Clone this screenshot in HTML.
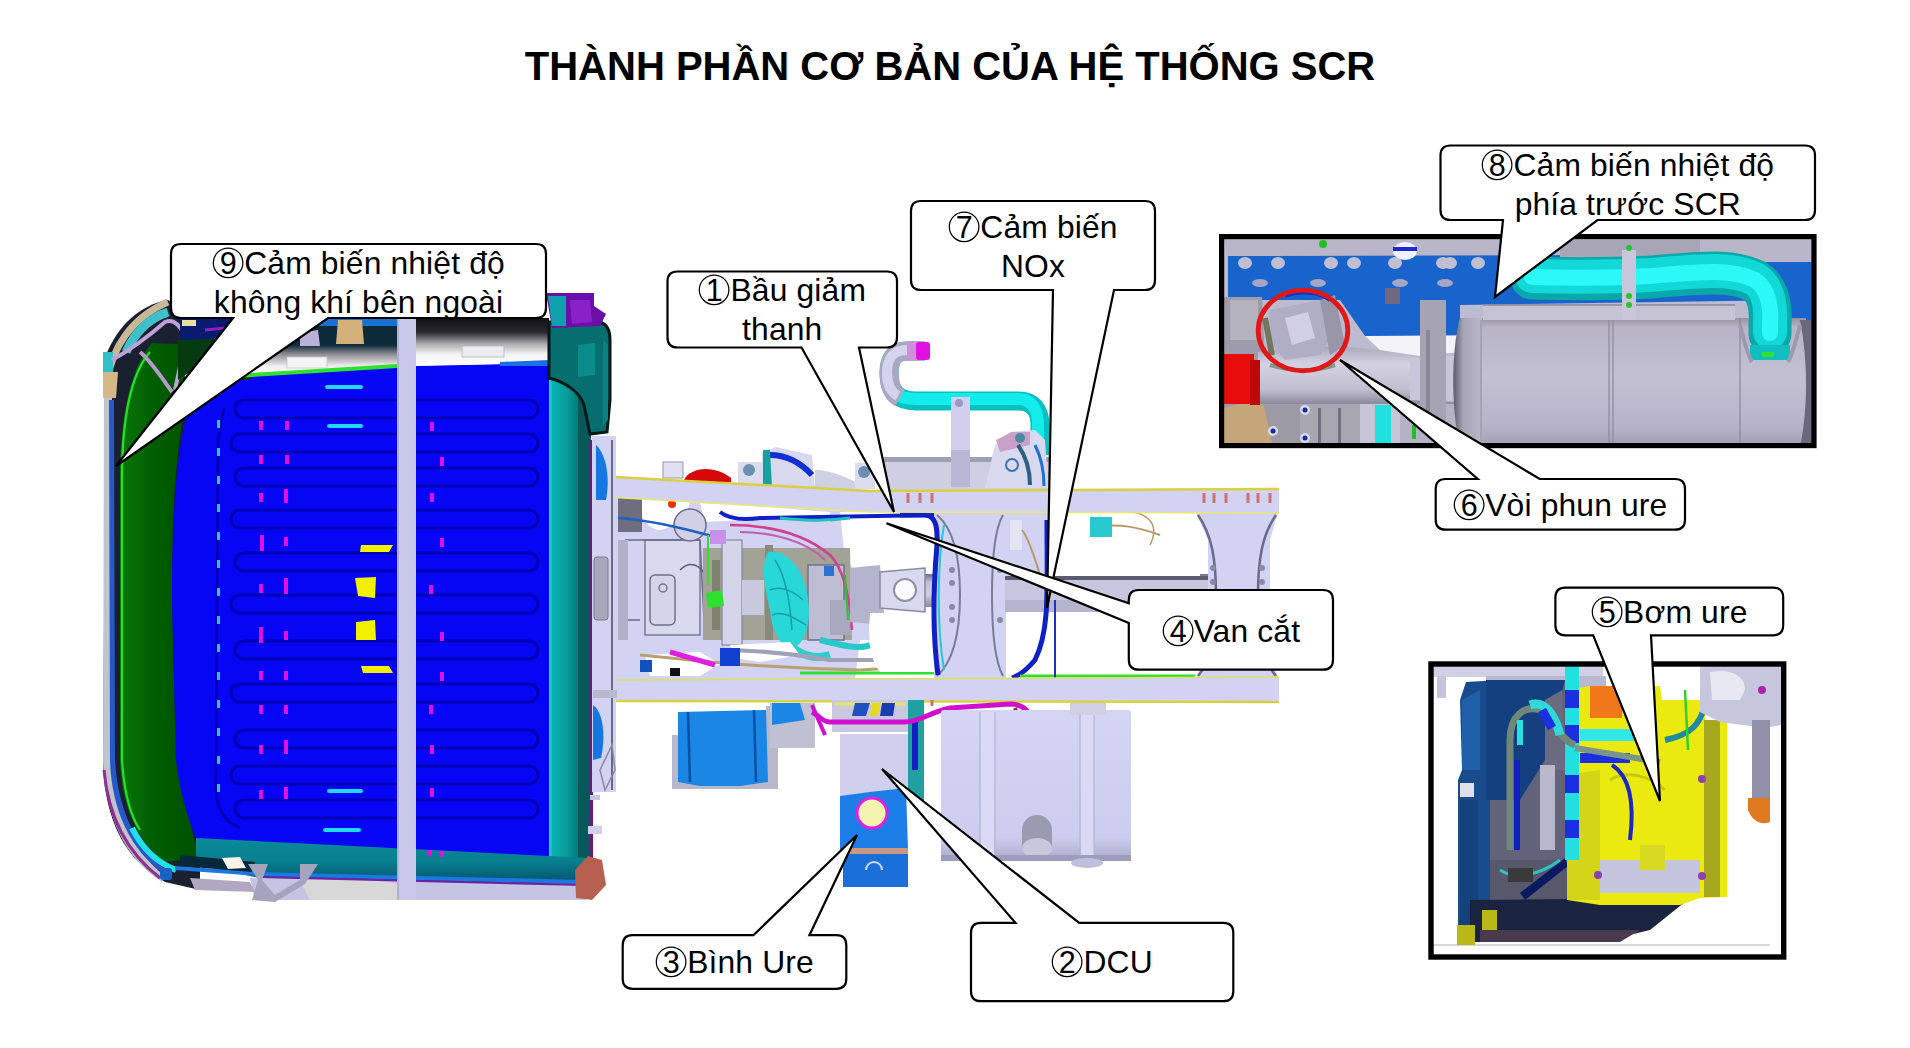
<!DOCTYPE html>
<html><head><meta charset="utf-8"><style>
html,body{margin:0;padding:0;background:#fff;}
body{width:1910px;height:1048px;position:relative;overflow:hidden;font-family:"Liberation Sans",sans-serif;}
#title{position:absolute;left:0;width:1900px;top:43px;text-align:center;font-weight:bold;font-size:40px;line-height:46px;color:#000;white-space:nowrap}
svg.main{position:absolute;left:0;top:0}
.ln{position:absolute;text-align:center;font-size:31.8px;line-height:38px;color:#000;white-space:nowrap;letter-spacing:0.15px}
.cd{vertical-align:-6px;margin-left:-2px}
</style></head><body>
<div id="title">THÀNH PHẦN CƠ BẢN CỦA HỆ THỐNG SCR</div>
<svg class="main" width="1910" height="1048" viewBox="0 0 1910 1048">
<defs><linearGradient id="cabTopL" x1="0" y1="0" x2="0" y2="1"><stop offset="0" stop-color="#0c2a3a"/><stop offset="0.45" stop-color="#0c2a3a"/><stop offset="0.6" stop-color="#8a8a90"/><stop offset="0.8" stop-color="#f0f0f2"/><stop offset="1" stop-color="#ffffff"/></linearGradient><linearGradient id="cabTopR" x1="0" y1="0" x2="0" y2="1"><stop offset="0" stop-color="#101014"/><stop offset="0.3" stop-color="#2a2a30"/><stop offset="0.55" stop-color="#b0b0b4"/><stop offset="0.75" stop-color="#f2f2f4"/><stop offset="1" stop-color="#ffffff"/></linearGradient><linearGradient id="tealBot" x1="0" y1="0" x2="0" y2="1"><stop offset="0" stop-color="#0a8a9a"/><stop offset="0.5" stop-color="#088090"/><stop offset="1" stop-color="#05506a"/></linearGradient><linearGradient id="tealR" x1="0" y1="0" x2="1" y2="0"><stop offset="0" stop-color="#20e0e0"/><stop offset="0.12" stop-color="#0cb0b0"/><stop offset="0.6" stop-color="#089c9c"/><stop offset="1" stop-color="#067a7a"/></linearGradient><linearGradient id="grn" x1="0" y1="0" x2="1" y2="0"><stop offset="0" stop-color="#0a780a"/><stop offset="0.4" stop-color="#005e00"/><stop offset="1" stop-color="#005000"/></linearGradient><filter id="soft" x="-5%" y="-50%" width="110%" height="200%"><feGaussianBlur stdDeviation="0.7"/></filter></defs>
<path d="M168,300 C140,305 118,325 106,355 L103,760 C104,820 125,860 165,882 L200,890 L200,320 Z" fill="#1a2030"/>
<path d="M104,380 L112,380 L113,760 C116,812 132,850 165,876 L162,882 C125,858 106,818 103,762 Z" fill="#c0c4cc"/>
<path d="M109,400 L114,400 L115,760 C118,808 134,846 166,870 L164,874 C130,850 112,810 110,762 Z" fill="#2858c8"/>
<path d="M104,770 C108,815 126,852 160,878" fill="none" stroke="#903090" stroke-width="3"/>
<path d="M152,343 C130,368 120,420 120,480 L120,760 C122,805 136,840 165,862 L198,858 L192,830 L176,760 L172,600 C172,480 178,420 196,370 L200,345 Z" fill="url(#grn)"/>
<path d="M150,352 C130,375 122,420 122,480 L122,760 C124,790 130,815 140,830" fill="none" stroke="#28e028" stroke-width="2.2"/>
<path d="M132,828 C142,848 155,862 176,870" fill="none" stroke="#20e0e8" stroke-width="6"/>
<rect x="160" y="868" width="12" height="12" rx="3" fill="#1a60c0"/>
<path d="M108,378 C112,350 130,318 168,302" fill="none" stroke="#c8b898" stroke-width="7"/>
<path d="M126,352 C135,332 150,318 168,312" fill="none" stroke="#40c0c8" stroke-width="9"/>
<path d="M103,352 L113,352 L113,372 L103,372 Z" fill="#30c0c8"/>
<path d="M103,372 L118,372 L116,398 L103,398 Z" fill="#d4b888"/>
<path d="M112,360 C130,350 150,335 165,322 C175,318 182,328 185,338 C182,360 178,375 175,390" fill="none" stroke="#c0a0d8" stroke-width="4"/>
<path d="M140,352 C150,360 160,375 172,392" fill="none" stroke="#b898c8" stroke-width="4"/>
<path d="M180,340 L195,370" stroke="#2090e0" stroke-width="5"/>
<path d="M200,378 L300,372 L397,366 L549,363 L549,858 L198,842 C190,825 180,795 176,760 L172,600 C172,500 178,430 196,385 Z" fill="#0606f4"/>
<path d="M224,408 L218,440 L216,790 C217,810 225,822 240,828" fill="none" stroke="#0000b0" stroke-width="2.5"/>
<rect x="235" y="400" width="303" height="18" rx="9" fill="none" stroke="#0000b4" stroke-width="3" filter="url(#soft)"/>
<rect x="231" y="434" width="307" height="18" rx="9" fill="none" stroke="#0000b4" stroke-width="3" filter="url(#soft)"/>
<rect x="235" y="468" width="303" height="18" rx="9" fill="none" stroke="#0000b4" stroke-width="3" filter="url(#soft)"/>
<rect x="231" y="510" width="307" height="18" rx="9" fill="none" stroke="#0000b4" stroke-width="3" filter="url(#soft)"/>
<rect x="235" y="553" width="303" height="18" rx="9" fill="none" stroke="#0000b4" stroke-width="3" filter="url(#soft)"/>
<rect x="231" y="595" width="307" height="18" rx="9" fill="none" stroke="#0000b4" stroke-width="3" filter="url(#soft)"/>
<rect x="235" y="641" width="303" height="18" rx="9" fill="none" stroke="#0000b4" stroke-width="3" filter="url(#soft)"/>
<rect x="231" y="684" width="307" height="18" rx="9" fill="none" stroke="#0000b4" stroke-width="3" filter="url(#soft)"/>
<rect x="235" y="730" width="303" height="18" rx="9" fill="none" stroke="#0000b4" stroke-width="3" filter="url(#soft)"/>
<rect x="231" y="766" width="307" height="18" rx="9" fill="none" stroke="#0000b4" stroke-width="3" filter="url(#soft)"/>
<rect x="235" y="800" width="303" height="18" rx="9" fill="none" stroke="#0000b4" stroke-width="3" filter="url(#soft)"/>
<path d="M180,318 L397,318 L397,366 L300,372 L200,378 L185,378 Z" fill="url(#cabTopL)"/>
<path d="M180,318 L300,318 L300,340 L180,345 Z" fill="#0a1a70"/>
<path d="M178,340 L250,338 L250,380 L200,380 L190,372 L178,380 Z" fill="#063a10"/>
<path d="M205,330 L245,326" stroke="#9020c0" stroke-width="3"/>
<rect x="182" y="320" width="14" height="6" fill="#e8e0a0"/>
<path d="M315,318 L397,318 L397,326 L315,326 Z" fill="#1a70d0"/>
<path d="M338,320 L362,320 L364,344 L336,344 Z" fill="#d4b07a"/>
<path d="M300,333 L318,330 L320,346 L300,346 Z" fill="#b8b0d8"/>
<rect x="287" y="357" width="40" height="11" fill="#f4f4f6" stroke="#c8c8cc" stroke-width="0.8"/>
<path d="M200,376 L300,370 L397,364 L397,368 L300,374 L200,380 Z" fill="#30e030"/>
<path d="M416,318 L549,318 L549,363 L416,366 Z" fill="url(#cabTopR)"/>
<rect x="462" y="346" width="42" height="11" fill="#ececf0" stroke="#b4b4b8" stroke-width="0.8"/>
<path d="M500,362 L549,360 L549,366 L500,366 Z" fill="#1a70e0"/>
<path d="M549,335 L578,335 L578,872 L549,868 Z" fill="url(#tealR)"/>
<path d="M578,335 L591,335 L591,870 L578,872 Z" fill="#06585a"/>
<path d="M549,322 L600,322 Q610,325 610,340 L610,400 L607,432 L590,434 L584,405 C580,392 565,382 549,378 Z" fill="#066e6e" stroke="#031818" stroke-width="3"/>
<path d="M578,345 L595,343 L595,375 L578,377 Z" fill="#0a8c8c"/>
<path d="M603,340 L608,345 L608,420 L603,425 Z" fill="#0a8080"/>
<rect x="590" y="440" width="3" height="420" fill="#6a1a7a"/>
<path d="M546,293 L594,293 L594,306 L606,314 L600,326 L552,328 Z" fill="#6a10a8"/>
<path d="M548,296 L566,296 L566,326 L552,326 Z" fill="#10a0b0"/>
<path d="M570,300 L590,300 L592,322 L572,324 Z" fill="#8a20c8"/>
<path d="M196,838 L549,856 L590,858 L592,872 L580,884 L260,878 L220,870 L196,858 Z" fill="url(#tealBot)"/>
<path d="M250,878 L580,884 L590,890 L585,900 L255,900 Z" fill="#c4c4e4"/>
<path d="M300,880 C330,878 380,880 400,884 L398,900 L310,900 Z" fill="#d8d8d8"/>
<path d="M175,866 L260,872 L585,880 L584,884 L258,876 L175,870 Z" fill="#1a78e0"/>
<path d="M258,876 L585,884 L584,886 L258,878 Z" fill="#7020a0"/>
<path d="M180,855 L255,862 L252,872 L180,866 Z" fill="#06283a"/>
<path d="M222,858 L240,857 L246,868 L228,869 Z" fill="#f8f4e8"/>
<path d="M190,878 L250,882 L255,892 L195,890 Z" fill="#b0a8c0"/>
<path d="M248,864 L268,864 L262,880 L275,895 L300,880 L300,864 L318,864 L305,884 L275,902 L252,900 L258,880 Z" fill="#a4a4bc"/>
<path d="M588,856 L602,860 L606,885 L592,900 L576,898 L575,870 Z" fill="#b86050"/>
<rect x="259" y="421" width="4" height="9" fill="#e010e0"/>
<rect x="285" y="421" width="4" height="9" fill="#e010e0"/>
<rect x="430" y="422" width="4" height="9" fill="#e010e0"/>
<rect x="259" y="455" width="4" height="9" fill="#e010e0"/>
<rect x="285" y="455" width="4" height="9" fill="#e010e0"/>
<rect x="440" y="457" width="4" height="9" fill="#e010e0"/>
<rect x="259" y="493" width="4" height="9" fill="#e010e0"/>
<rect x="284" y="489" width="4" height="14" fill="#e010e0"/>
<rect x="430" y="493" width="4" height="9" fill="#e010e0"/>
<rect x="260" y="535" width="4" height="16" fill="#e010e0"/>
<rect x="284" y="537" width="4" height="9" fill="#e010e0"/>
<rect x="440" y="538" width="4" height="9" fill="#e010e0"/>
<rect x="259" y="584" width="4" height="9" fill="#e010e0"/>
<rect x="284" y="578" width="4" height="16" fill="#e010e0"/>
<rect x="429" y="585" width="4" height="9" fill="#e010e0"/>
<rect x="259" y="627" width="4" height="16" fill="#e010e0"/>
<rect x="284" y="631" width="4" height="9" fill="#e010e0"/>
<rect x="440" y="632" width="4" height="9" fill="#e010e0"/>
<rect x="259" y="671" width="4" height="9" fill="#e010e0"/>
<rect x="284" y="671" width="4" height="9" fill="#e010e0"/>
<rect x="440" y="672" width="4" height="9" fill="#e010e0"/>
<rect x="259" y="705" width="4" height="9" fill="#e010e0"/>
<rect x="284" y="705" width="4" height="9" fill="#e010e0"/>
<rect x="429" y="705" width="4" height="9" fill="#e010e0"/>
<rect x="259" y="745" width="4" height="9" fill="#e010e0"/>
<rect x="284" y="740" width="4" height="14" fill="#e010e0"/>
<rect x="430" y="745" width="4" height="9" fill="#e010e0"/>
<rect x="259" y="790" width="4" height="9" fill="#e010e0"/>
<rect x="284" y="787" width="4" height="12" fill="#e010e0"/>
<rect x="430" y="788" width="4" height="9" fill="#e010e0"/>
<rect x="428" y="850" width="4" height="6" fill="#e010e0"/>
<rect x="440" y="851" width="4" height="6" fill="#e010e0"/>
<path d="M361,545 L393,545 L389,552 L360,552 Z" fill="#f0f000"/>
<path d="M355,578 L376,577 L375,598 L358,596 Z" fill="#f0f000"/>
<path d="M356,622 L375,620 L376,640 L356,640 Z" fill="#f0f000"/>
<path d="M361,666 L389,666 L393,673 L363,673 Z" fill="#f0f000"/>
<rect x="325" y="385" width="38" height="4" rx="2" fill="#20d8f0"/>
<rect x="327" y="424" width="36" height="4" rx="2" fill="#20d8f0"/>
<rect x="327" y="789" width="36" height="4" rx="2" fill="#20d8f0"/>
<rect x="323" y="828" width="38" height="4" rx="2" fill="#20d8f0"/>
<rect x="217" y="420" width="3" height="8" fill="#30c0f0"/>
<rect x="217" y="448" width="3" height="8" fill="#30c0f0"/>
<rect x="217" y="476" width="3" height="8" fill="#30c0f0"/>
<rect x="217" y="504" width="3" height="8" fill="#30c0f0"/>
<rect x="217" y="532" width="3" height="8" fill="#30c0f0"/>
<rect x="217" y="560" width="3" height="8" fill="#30c0f0"/>
<rect x="217" y="588" width="3" height="8" fill="#30c0f0"/>
<rect x="217" y="616" width="3" height="8" fill="#30c0f0"/>
<rect x="217" y="644" width="3" height="8" fill="#30c0f0"/>
<rect x="217" y="672" width="3" height="8" fill="#30c0f0"/>
<rect x="217" y="700" width="3" height="8" fill="#30c0f0"/>
<rect x="217" y="728" width="3" height="8" fill="#30c0f0"/>
<rect x="217" y="756" width="3" height="8" fill="#30c0f0"/>
<rect x="217" y="784" width="3" height="8" fill="#30c0f0"/>
<rect x="397" y="318" width="19" height="582" fill="#c8c8ea"/>
<rect x="397" y="318" width="2" height="582" fill="#b0b0d4"/>
<defs><linearGradient id="pipeGrayV" x1="0" y1="0" x2="0" y2="1"><stop offset="0" stop-color="#8a8aa0"/><stop offset="0.3" stop-color="#d8d8ee"/><stop offset="0.7" stop-color="#c8c8e0"/><stop offset="1" stop-color="#7a7a90"/></linearGradient><linearGradient id="shaftG" x1="0" y1="0" x2="0" y2="1"><stop offset="0" stop-color="#70708a"/><stop offset="0.25" stop-color="#c0c0d8"/><stop offset="0.6" stop-color="#d0d0e6"/><stop offset="1" stop-color="#8a8aa4"/></linearGradient><linearGradient id="cyanP" x1="0" y1="0" x2="0" y2="1"><stop offset="0" stop-color="#10c8c8"/><stop offset="0.4" stop-color="#10f0f0"/><stop offset="1" stop-color="#08b0b0"/></linearGradient><linearGradient id="tankG" x1="0" y1="0" x2="0" y2="1"><stop offset="0" stop-color="#d4d4f4"/><stop offset="0.85" stop-color="#ccccee"/><stop offset="1" stop-color="#a8a8c8"/></linearGradient></defs>
<path d="M925,351 L907,351 Q889,351 889,373 Q889,401 916,401 L1018,401 Q1040,401 1040,426 L1040,455" fill="none" stroke="#08c0c0" stroke-width="19"/>
<path d="M925,349 L907,349 Q887,349 887,373 Q887,399 916,399 L1018,399 Q1038,399 1038,426 L1038,455" fill="none" stroke="#14ecec" stroke-width="12"/>
<path d="M925,351 L907,351 Q889,351 889,373 Q889,392 900,398" fill="none" stroke="#a8a8c4" stroke-width="19"/>
<path d="M925,350 L907,350 Q887,350 887,373 Q887,390 898,396" fill="none" stroke="#d4d4ec" stroke-width="10"/>
<path d="M920,351 L907,351" fill="none" stroke="#d090d8" stroke-width="19"/>
<rect x="916" y="342" width="14" height="18" rx="3" fill="#e010e0"/>
<rect x="884" y="457" width="166" height="34" fill="#cfcfe4"/>
<rect x="884" y="457" width="166" height="5" fill="#a0a0b4"/>
<rect x="951" y="397" width="19" height="90" fill="#d0d0ee"/>
<rect x="951" y="450" width="19" height="37" fill="#b8b8d6"/>
<circle cx="959" cy="403" r="4" fill="#a098c0"/>
<path d="M995,445 L1010,432 L1035,430 L1045,440 L1048,488 L985,488 Z" fill="#d8d8ee"/>
<path d="M996,440 L1012,432 L1030,432 L1030,445 L1000,452 Z" fill="#c8a0c8"/>
<circle cx="1020" cy="438" r="5" fill="#4a8aa0"/>
<path d="M1018,445 C1025,455 1030,470 1030,485" stroke="#306080" stroke-width="4" fill="none"/>
<path d="M1035,445 C1040,455 1044,470 1044,486" stroke="#2070d0" stroke-width="3" fill="none"/>
<circle cx="1012" cy="465" r="6" fill="none" stroke="#4070b0" stroke-width="2"/>
<rect x="663" y="462" width="20" height="16" fill="#e0e0f0" stroke="#909ab0" stroke-width="1"/>
<path d="M684,480 C690,468 712,464 731,478 L731,482 L684,482 Z" fill="#d40808"/>
<rect x="738" y="462" width="26" height="26" fill="#dcdcf0"/>
<circle cx="749" cy="470" r="6" fill="#6a90b0"/>
<path d="M762,452 L776,447 L812,455 L815,488 L762,488 Z" fill="#d8d8ee"/>
<path d="M770,455 C785,455 800,462 812,475" stroke="#1030d0" stroke-width="6" fill="none"/>
<path d="M763,450 L770,450 L772,488 L763,488 Z" fill="#18a0a0"/>
<path d="M815,470 C830,470 850,478 860,485 L860,490 L815,490 Z" fill="#d0d0e4"/>
<rect x="855" y="463" width="20" height="26" fill="#dcdcf0"/>
<circle cx="864" cy="472" r="6" fill="#6a90b0"/>
<path d="M616,497 L700,502 L860,512 L865,560 L870,640 L860,680 L616,680 Z" fill="#d2d2f2"/>
<path d="M700,503 C740,505 780,508 830,512 L830,522 C790,518 740,520 705,522 Z" fill="#ffffff"/>
<path d="M640,499 L690,501 C688,515 675,528 660,530 C650,530 642,520 640,510 Z" fill="#ffffff"/>
<path d="M840,512 L1000,515 L1000,575 L860,575 L845,560 Z" fill="#ffffff"/>
<rect x="645" y="540" width="55" height="95" fill="#d8d8ee" stroke="#7a7a92" stroke-width="1.5"/>
<rect x="650" y="575" width="25" height="50" rx="5" fill="#d4d4ea" stroke="#70708a" stroke-width="1.5"/>
<circle cx="663" cy="588" r="4" fill="none" stroke="#70708a" stroke-width="1.5"/>
<path d="M625,540 L700,540 M625,620 L640,620 M700,540 L705,640" stroke="#6a6a82" stroke-width="1.5" fill="none"/>
<circle cx="690" cy="525" r="16" fill="#d0d0e6" stroke="#6a6a86" stroke-width="1.5"/>
<path d="M680,570 C690,560 700,565 705,575" stroke="#5a5a70" stroke-width="1.5" fill="none"/>
<rect x="618" y="497" width="24" height="35" fill="#6e6e80"/>
<rect x="618" y="540" width="10" height="100" fill="#b0b0c6"/>
<circle cx="672" cy="504" r="4" fill="#e83010"/>
<path d="M618,518 C650,520 680,528 712,536" stroke="#2060c0" stroke-width="2.5" fill="none"/>
<path d="M703,548 L850,548 L852,640 L703,640 Z" fill="#a2a296"/>
<rect x="722" y="540" width="20" height="105" fill="#d4d4ea" stroke="#7a7a92" stroke-width="1"/>
<rect x="742" y="580" width="22" height="35" fill="#c8c8de"/>
<rect x="712" y="560" width="8" height="70" fill="#80806e"/>
<rect x="765" y="545" width="8" height="95" fill="#8a8a7a"/>
<rect x="808" y="565" width="36" height="75" fill="#bdbdd4" stroke="#70708a" stroke-width="1.5"/>
<rect x="830" y="600" width="22" height="35" fill="#a8a8be"/>
<path d="M706,593 L722,590 L724,606 L708,608 Z" fill="#30e030"/>
<rect x="707" y="535" width="2" height="50" fill="#30e030"/>
<path d="M768,552 C785,550 800,565 805,585 C812,605 810,640 795,647 C780,650 772,630 770,610 C765,590 760,565 768,552 Z" fill="#28d8d8"/>
<path d="M775,560 C785,575 790,600 792,630 M770,590 C780,585 795,592 803,600 M772,615 C782,610 795,618 806,625" stroke="#14a0a8" stroke-width="1.5" fill="none"/>
<path d="M790,645 C800,655 815,660 830,655" stroke="#28d0d0" stroke-width="8" fill="none"/>
<path d="M730,525 C760,525 800,530 830,555 C845,570 850,600 852,630" stroke="#d04090" stroke-width="2.5" fill="none"/>
<path d="M740,532 C770,532 805,540 825,560" stroke="#c060b0" stroke-width="2" fill="none"/>
<rect x="710" y="530" width="16" height="14" fill="#c890e8"/>
<rect x="824" y="566" width="10" height="10" fill="#3070d0"/>
<path d="M645,655 L700,652 L720,664 L700,676 L650,676 Z" fill="#ffffff"/>
<path d="M730,645 L790,642 L800,655 L760,662 L735,658 Z" fill="#ffffff"/>
<path d="M860,640 L870,640 L875,680 L855,680 Z" fill="#ffffff"/>
<path d="M720,512 C730,520 745,520 760,518 L935,515 C945,516 948,525 948,540 L948,640 C948,660 945,670 940,678" stroke="#1020c8" stroke-width="4" fill="none"/>
<path d="M780,518 C800,520 820,522 850,518" stroke="#20c0c0" stroke-width="3" fill="none"/>
<path d="M640,655 C690,660 760,668 860,670 L945,665" stroke="#b8a070" stroke-width="3" fill="none"/>
<path d="M670,652 L715,665" stroke="#e020e0" stroke-width="5" fill="none"/>
<path d="M720,650 C760,650 800,655 830,660 L920,660" stroke="#a0a0b8" stroke-width="4" fill="none"/>
<path d="M800,673 L950,673" stroke="#30e030" stroke-width="3" fill="none"/>
<path d="M940,672 L1000,672" stroke="#1020c8" stroke-width="4" fill="none"/>
<rect x="720" y="648" width="20" height="18" fill="#1040d0"/>
<rect x="640" y="660" width="12" height="12" fill="#1050c0"/>
<rect x="670" y="668" width="10" height="8" fill="#101018"/>
<path d="M820,640 C840,645 860,650 870,645" stroke="#28c8c8" stroke-width="6" fill="none"/>
<rect x="850" y="574" width="360" height="33" fill="url(#shaftG)"/>
<path d="M850,568 L880,565 L885,625 L850,622 Z" fill="#b4b4cc"/>
<path d="M880,572 L925,568 L925,612 L880,608 Z" fill="#d8d8ee" stroke="#8888a0" stroke-width="1.5"/>
<circle cx="905" cy="590" r="11" fill="#fafaff" stroke="#9090a8" stroke-width="2"/>
<path d="M845,575 L848,620" stroke="#30c030" stroke-width="2"/>
<path d="M870,613 L945,613 L945,672 L880,672 C870,660 868,640 870,613 Z" fill="#ffffff"/>
<rect x="1048" y="513" width="152" height="66" fill="#ffffff"/>
<path d="M1008,611 L1196,611 L1196,677 L1040,677 C1020,670 1010,650 1008,611 Z" fill="#ffffff"/>
<rect x="934" y="513" width="72" height="165" fill="#d2d2f2"/>
<path d="M937,515 C955,530 960,560 960,595 C960,630 955,660 937,676 M1003,515 C994,530 992,560 992,595 C992,630 994,660 1003,676" stroke="#7a7a9a" stroke-width="2" fill="none"/>
<rect x="1005" y="513" width="45" height="66" fill="#d2d2f2"/>
<rect x="1010" y="520" width="12" height="30" fill="#e4e4f4"/>
<path d="M1022,530 C1030,540 1035,560 1040,575" stroke="#b89868" stroke-width="2" fill="none"/>
<circle cx="952" cy="570" r="3" fill="#8888a8"/>
<circle cx="952" cy="583" r="3" fill="#8888a8"/>
<circle cx="952" cy="607" r="3" fill="#8888a8"/>
<circle cx="952" cy="620" r="3" fill="#8888a8"/>
<circle cx="1000" cy="570" r="3" fill="#8888a8"/>
<circle cx="1000" cy="620" r="3" fill="#8888a8"/>
<rect x="1005" y="578" width="205" height="34" fill="#c6c6de"/>
<rect x="1005" y="600" width="205" height="12" fill="#b4b4cc"/>
<rect x="1005" y="576" width="205" height="4" fill="#5a5a70"/>
<path d="M1196,513 L1278,513 L1270,540 L1270,650 L1278,678 L1196,678 L1208,650 L1208,540 Z" fill="#d2d2f2"/>
<path d="M1198,515 C1212,535 1216,560 1216,595 C1216,630 1212,660 1198,676 M1276,515 C1262,535 1258,560 1258,595 C1258,630 1262,660 1276,676" stroke="#6a6a90" stroke-width="2.5" fill="none"/>
<circle cx="1213" cy="568" r="3" fill="#8888a8"/>
<circle cx="1213" cy="582" r="3" fill="#8888a8"/>
<circle cx="1262" cy="568" r="3" fill="#8888a8"/>
<circle cx="1262" cy="582" r="3" fill="#8888a8"/>
<path d="M900,515 L925,515 C935,516 938,525 937,545 C933,590 932,630 938,675" stroke="#1020c8" stroke-width="5" fill="none"/>
<path d="M944,525 C938,560 936,620 944,670" stroke="#28c8d8" stroke-width="2" fill="none"/>
<path d="M1047,520 C1047,590 1050,630 1035,660 C1025,672 1018,676 1012,678" stroke="#1020c8" stroke-width="5" fill="none"/>
<path d="M1020,676 L1195,676" stroke="#30e030" stroke-width="3"/>
<path d="M1055,600 L1055,678" stroke="#2030c0" stroke-width="2" fill="none"/>
<path d="M1090,528 C1120,522 1140,528 1160,535" stroke="#b89868" stroke-width="2" fill="none"/>
<rect x="1090" y="517" width="22" height="20" fill="#28c8d0"/>
<path d="M1120,510 C1150,512 1160,525 1150,545" stroke="#b89868" stroke-width="1.5" fill="none"/>
<path d="M615,477 L870,491 L1279,489 L1279,513 L870,512 L615,497.5 Z" fill="#d2d2f2"/>
<path d="M615,477 L870,491 L1279,489" stroke="#d8d040" stroke-width="2.5" fill="none"/>
<path d="M615,497.5 L870,512 L1279,513" stroke="#e8e870" stroke-width="1.5" fill="none"/>
<path d="M615,680 L1279,677 L1279,701 L615,700.5 Z" fill="#d2d2f2"/>
<path d="M615,680 L1279,677" stroke="#e0e060" stroke-width="1.5" fill="none"/>
<path d="M615,701 L1279,702" stroke="#d8d040" stroke-width="2.5" fill="none"/>
<path d="M908,493 l0,10" stroke="#d07070" stroke-width="3"/>
<path d="M920,493 l0,10" stroke="#d07070" stroke-width="3"/>
<path d="M932,493 l0,10" stroke="#d07070" stroke-width="3"/>
<path d="M1204,493 l0,10" stroke="#d07070" stroke-width="3"/>
<path d="M1214,493 l0,10" stroke="#d07070" stroke-width="3"/>
<path d="M1226,493 l0,10" stroke="#d07070" stroke-width="3"/>
<path d="M1248,493 l0,10" stroke="#d07070" stroke-width="3"/>
<path d="M1258,493 l0,10" stroke="#d07070" stroke-width="3"/>
<path d="M1270,493 l0,10" stroke="#d07070" stroke-width="3"/>
<path d="M908,700 l0,6" stroke="#d07070" stroke-width="3"/>
<path d="M920,700 l0,6" stroke="#d07070" stroke-width="3"/>
<path d="M932,700 l0,6" stroke="#d07070" stroke-width="3"/>
<rect x="592" y="436" width="24" height="356" fill="#d2d2f2"/>
<rect x="611" y="440" width="2" height="350" fill="#6a6a80"/>
<path d="M600,770 L612,745 L615,770 L605,790 Z" fill="none" stroke="#8a8aa0" stroke-width="1.5"/>
<rect x="590" y="795" width="10" height="5" fill="#c8c8e0"/><rect x="588" y="826" width="14" height="8" fill="#d0d0ea"/>
<path d="M596,445 C607,455 610,480 606,500 L596,500 Z" fill="#1478e0"/>
<rect x="594" y="557" width="14" height="63" rx="3" fill="#a8a8bc" stroke="#7a7a90" stroke-width="1"/>
<path d="M593,705 C603,712 606,735 601,758 L593,760 Z" fill="#1478e0"/>
<rect x="593" y="690" width="24" height="8" fill="#b8b8d0"/>
<path d="M672,735 L680,735 L680,782 L766,782 L766,706 L778,706 L778,789 L672,789 Z" fill="#b8b8cc"/>
<path d="M678,712 L766,710 L768,782 L740,786 L700,786 L678,782 Z" fill="#1a86e6"/>
<path d="M688,712 L690,782 M754,710 L756,782" stroke="#0a50a0" stroke-width="2.5"/>
<rect x="770" y="703" width="45" height="45" fill="#c0c0d4"/>
<path d="M772,703 L800,703 L805,720 L772,725 Z" fill="#1a86e6"/>
<rect x="832" y="700" width="80" height="32" fill="#c8c8e0"/>
<path d="M835,704 L905,704" stroke="#e8e860" stroke-width="3"/>
<path d="M855,703 L870,703 L866,716 L852,716 Z" fill="#2050c0"/><path d="M872,703 L880,703 L878,716 L870,716 Z" fill="#e8d820"/><path d="M882,703 L895,703 L893,716 L880,716 Z" fill="#1a3cb0"/>
<rect x="840" y="734" width="68" height="62" fill="#d0d0ee"/>
<path d="M840,796 L870,792 L906,788 L908,850 L840,850 Z" fill="#1c7ee6"/>
<rect x="843" y="850" width="65" height="37" fill="#1a6fd8"/>
<rect x="843" y="848" width="65" height="6" fill="#c89880"/>
<circle cx="872" cy="813" r="15" fill="#f4f4b0" stroke="#e020e0" stroke-width="3"/>
<path d="M866,870 A8,8 0 0 1 882,870" stroke="#d0d8f0" stroke-width="2" fill="none"/>
<rect x="908" y="700" width="16" height="100" fill="#20a0a0"/>
<rect x="912" y="720" width="6" height="50" fill="#1020c0"/>
<path d="M812,712 C820,716 822,722 830,722 L905,722 C920,722 930,712 950,708 L1010,704 C1030,704 1034,720 1034,740 L1034,788" stroke="#d010d0" stroke-width="5" fill="none"/>
<path d="M1015,708 C1020,720 1018,740 1017,788" stroke="#7a3030" stroke-width="4" fill="none"/>
<path d="M812,705 L825,735" stroke="#d010d0" stroke-width="4" fill="none"/>
<rect x="941" y="710" width="190" height="151" rx="3" fill="url(#tankG)"/>
<rect x="981" y="712" width="13" height="150" fill="#dadaf6"/>
<rect x="1081" y="712" width="13" height="152" fill="#dadaf6"/>
<path d="M980,712 L980,860 M995,712 L995,860 M1080,712 L1080,860 M1094,712 L1094,860" stroke="#b4b4d2" stroke-width="1.2"/>
<rect x="1070" y="703" width="36" height="12" fill="#d0d0e4"/>
<path d="M1022,848 L1022,830 A15,15 0 0 1 1052,830 L1052,848 Z" fill="#9a9ab0"/>
<ellipse cx="1037" cy="848" rx="15" ry="10" fill="#c8c8dc"/>
<rect x="941" y="855" width="190" height="6" fill="#9c9cbc"/>
<ellipse cx="1087" cy="863" rx="16" ry="5" fill="#c0c0dc"/>
<defs><clipPath id="c1"><rect x="1224" y="239" width="588" height="204"/></clipPath><linearGradient id="mufG" x1="0" y1="0" x2="0" y2="1"><stop offset="0" stop-color="#96929f"/><stop offset="0.07" stop-color="#b8b4c6"/><stop offset="0.45" stop-color="#c4c0d4"/><stop offset="0.85" stop-color="#b6b2c8"/><stop offset="1" stop-color="#a09cb2"/></linearGradient><linearGradient id="mufEnd" x1="0" y1="0" x2="1" y2="0"><stop offset="0" stop-color="#5e5a6c"/><stop offset="0.35" stop-color="#a8a4b8"/><stop offset="1" stop-color="#bcb8cc"/></linearGradient><linearGradient id="cyP1" x1="0" y1="0" x2="0" y2="1"><stop offset="0" stop-color="#10b8b8"/><stop offset="0.35" stop-color="#20ffff"/><stop offset="0.75" stop-color="#10e0e0"/><stop offset="1" stop-color="#08a0a0"/></linearGradient><linearGradient id="pipe1" x1="0" y1="0" x2="0" y2="1"><stop offset="0" stop-color="#a8a6b8"/><stop offset="0.3" stop-color="#d4d2e2"/><stop offset="0.75" stop-color="#c0bed0"/><stop offset="1" stop-color="#8c889c"/></linearGradient></defs>
<g clip-path="url(#c1)">
<rect x="1224" y="239" width="588" height="204" fill="#bdbbd0"/>
<path d="M1228,253 L1812,250 L1812,342 L1790,342 L1790,300 L1460,305 L1460,335 L1365,336 L1340,300 L1228,300 Z" fill="#1864cc"/>
<path d="M1224,239 L1812,239 L1812,262 L1760,262 L1700,255 L1228,256 Z" fill="#b8b6c8"/>
<path d="M1560,240 L1700,240 L1700,258 L1560,258 Z" fill="#a8a6b6"/>
<ellipse cx="1245" cy="263" rx="7" ry="6" fill="#c0bfd2"/>
<ellipse cx="1278" cy="263" rx="7" ry="6" fill="#c0bfd2"/>
<ellipse cx="1331" cy="263" rx="7" ry="6" fill="#c0bfd2"/>
<ellipse cx="1354" cy="263" rx="7" ry="6" fill="#c0bfd2"/>
<ellipse cx="1395" cy="263" rx="7" ry="6" fill="#c0bfd2"/>
<ellipse cx="1443" cy="263" rx="7" ry="6" fill="#c0bfd2"/>
<ellipse cx="1450" cy="263" rx="7" ry="6" fill="#c0bfd2"/>
<ellipse cx="1478" cy="263" rx="7" ry="6" fill="#c0bfd2"/>
<ellipse cx="1510" cy="263" rx="7" ry="6" fill="#c0bfd2"/>
<ellipse cx="1260" cy="283" rx="8" ry="4" fill="#a4a6c4"/>
<ellipse cx="1318" cy="283" rx="8" ry="4" fill="#a4a6c4"/>
<ellipse cx="1400" cy="283" rx="8" ry="4" fill="#a4a6c4"/>
<ellipse cx="1445" cy="283" rx="8" ry="4" fill="#a4a6c4"/>
<circle cx="1323" cy="244" r="4" fill="#20c020"/>
<ellipse cx="1405" cy="251" rx="12" ry="9" fill="#f0f0ff"/><rect x="1393" y="247" width="24" height="4" fill="#1a2ad0"/>
<rect x="1385" y="288" width="15" height="16" fill="#706880"/>
<path d="M1365,336 L1460,336 L1460,352 L1420,356 L1380,350 Z" fill="#f4f4f8"/>
<rect x="1224" y="400" width="240" height="43" fill="#9c9aa4"/>
<path d="M1224,408 L1262,398 L1272,443 L1224,443 Z" fill="#c4a67a"/>
<rect x="1300" y="402" width="60" height="41" fill="#a8a6b0"/>
<rect x="1318" y="408" width="3" height="35" fill="#707080"/><rect x="1338" y="408" width="3" height="35" fill="#707080"/>
<circle cx="1305" cy="410" r="5" fill="#d8d8e8"/><circle cx="1305" cy="410" r="2.5" fill="#1a2aa0"/>
<circle cx="1273" cy="431" r="5" fill="#d8d8e8"/><circle cx="1273" cy="431" r="2.5" fill="#1a2aa0"/>
<circle cx="1305" cy="438" r="5" fill="#d8d8e8"/><circle cx="1305" cy="438" r="2.5" fill="#1a2aa0"/>
<rect x="1360" y="402" width="40" height="41" fill="#c8c6d6"/>
<rect x="1375" y="405" width="16" height="38" fill="#20e0e0"/>
<rect x="1400" y="402" width="60" height="41" fill="#b4b2c4"/>
<rect x="1412" y="425" width="4" height="14" fill="#20c020"/>
<path d="M1224,297 L1262,297 L1265,360 L1254,395 L1224,395 Z" fill="#9e9caa"/>
<path d="M1230,300 L1258,300 L1258,340 L1230,340 Z" fill="#b4b2be"/>
<path d="M1258,352 C1300,345 1340,345 1380,350 C1400,355 1420,360 1440,358 L1462,356 L1462,404 L1258,404 Z" fill="url(#pipe1)"/>
<path d="M1410,360 L1460,355 L1460,402 L1410,400 Z" fill="#c8c6d8"/>
<rect x="1224" y="354" width="30" height="50" fill="#e80c0c"/>
<rect x="1250" y="360" width="10" height="45" fill="#c00808"/>
<path d="M1420,300 L1446,300 L1446,420 L1432,430 L1420,420 Z" fill="#a6a4b2"/>
<rect x="1426" y="330" width="4" height="95" fill="#8a8898"/>
<path d="M1270,310 L1320,300 L1335,330 L1320,355 L1285,360 L1268,340 Z" fill="#b0aec4"/>
<path d="M1285,318 L1308,312 L1315,338 L1292,345 Z" fill="#d0d0e4"/>
<path d="M1320,300 L1335,295 L1345,345 L1330,355 Z" fill="#9896a8"/>
<path d="M1265,318 L1272,355" stroke="#707860" stroke-width="6"/>
<path d="M1285,296 C1300,290 1320,292 1330,300" stroke="#1030d0" stroke-width="4" fill="none"/>
<path d="M1270,365 C1290,372 1315,372 1335,365" stroke="#7a9a88" stroke-width="4" fill="none"/>
<rect x="1460" y="318" width="346" height="129" fill="url(#mufG)"/>
<path d="M1460,318 L1482,318 L1482,447 L1460,447 C1451,410 1451,350 1460,318 Z" fill="url(#mufEnd)"/>
<path d="M1481,320 L1481,445" stroke="#9894a8" stroke-width="1.2"/>
<path d="M1609,318 L1609,447 M1613,318 L1613,447 M1740,318 L1740,447" stroke="#8c889c" stroke-width="1.2"/>
<path d="M1800,320 C1808,360 1808,410 1800,447 L1812,447 L1812,320 Z" fill="#6c687c"/>
<path d="M1483,305 L1735,305 L1735,320 L1483,320 Z" fill="#c6c4d4"/>
<path d="M1483,305 L1735,305" stroke="#8a889a" stroke-width="1.5"/>
<path d="M1532,278 C1570,279 1610,279 1650,277 C1700,273 1730,269 1755,281 C1770,291 1771,310 1770,325 L1770,334" fill="none" stroke="#0aa8a8" stroke-width="43" stroke-linecap="round"/>
<path d="M1532,278 C1570,279 1610,279 1650,277 C1700,273 1730,269 1755,281 C1770,291 1771,310 1770,325 L1770,334" fill="none" stroke="#12d8d8" stroke-width="34" stroke-linecap="round" transform="translate(0,-2)"/>
<path d="M1532,278 C1570,279 1610,279 1650,277 C1700,273 1730,269 1755,281 C1770,291 1771,310 1770,325 L1770,334" fill="none" stroke="#2cf8f8" stroke-width="16" stroke-linecap="round" transform="translate(0,-1)"/>
<path d="M1750,345 L1790,345 L1790,360 L1750,360 Z" fill="#10c0c0"/>
<path d="M1740,325 C1745,345 1748,355 1752,362 M1800,325 C1795,345 1792,355 1788,362" stroke="#9c9aae" stroke-width="4" fill="none"/>
<rect x="1762" y="352" width="12" height="5" fill="#30e030"/>
<rect x="1622" y="250" width="14" height="70" fill="#c8c6da"/>
<circle cx="1629" cy="296" r="3" fill="#30c030"/><circle cx="1629" cy="305" r="3" fill="#30c030"/>
<circle cx="1629" cy="248" r="3" fill="#30c030"/>
</g>
<ellipse cx="1303" cy="330.5" rx="44.8" ry="40.3" fill="none" stroke="#e01818" stroke-width="4.8"/>
<rect x="1221.6" y="236.6" width="592.4" height="209" fill="none" stroke="#000" stroke-width="5.2"/>
<defs><clipPath id="c2"><rect x="1433" y="666" width="348" height="289"/></clipPath></defs>
<g clip-path="url(#c2)">
<rect x="1433" y="666" width="348" height="289" fill="#ffffff"/>
<path d="M1433,945 L1770,945" stroke="#d8d8e0" stroke-width="2"/>
<rect x="1433" y="666" width="170" height="11" fill="#cfcfe6"/>
<rect x="1437" y="676" width="9" height="22" fill="#c4c4dc"/>
<rect x="1486" y="676" width="120" height="14" fill="#b8b8d0"/>
<path d="M1466,682 L1500,680 L1500,935 L1458,935 L1458,780 L1462,770 L1460,700 Z" fill="#184c8c"/>
<path d="M1462,700 L1480,690 L1480,770 L1462,770 Z" fill="#2060a8"/>
<path d="M1460,800 L1478,800 L1478,930 L1460,930 Z" fill="#14427c"/>
<rect x="1460" y="783" width="14" height="14" fill="#e0e0ea"/>
<path d="M1490,680 L1575,680 L1575,930 L1490,930 Z" fill="#62627a"/>
<path d="M1486,680 L1565,680 L1560,700 L1545,700 L1545,760 L1520,800 L1486,800 Z" fill="#144080"/>
<path d="M1545,700 L1562,690 L1565,770 L1545,770 Z" fill="#6a6a80"/>
<path d="M1490,860 L1575,860 L1575,930 L1490,930 Z" fill="#58586c"/>
<path d="M1520,893 L1565,858 L1568,866 L1525,900 Z" fill="#0a1a60"/>
<path d="M1470,900 L1690,898 L1650,930 L1600,942 L1470,942 Z" fill="#1a2440"/>
<path d="M1480,930 L1640,930 L1620,942 L1480,942 Z" fill="#4a3a50"/>
<rect x="1457" y="925" width="18" height="20" fill="#b8b818"/>
<rect x="1482" y="910" width="15" height="20" fill="#b8b818"/>
<path d="M1567,690 L1590,686 L1660,686 L1662,700 L1705,700 L1705,720 L1727,720 L1727,897 L1700,898 L1680,905 L1600,905 L1567,900 Z" fill="#eaea10"/>
<path d="M1567,775 L1600,770 L1600,900 L1567,900 Z" fill="#d4d418"/>
<path d="M1704,720 L1720,720 L1720,897 L1704,897 Z" fill="#a8a820"/>
<path d="M1600,860 L1700,860 L1700,893 L1600,893 Z" fill="#c4c4dc"/>
<path d="M1640,845 L1665,845 L1665,870 L1640,870 Z" fill="#d8d820"/>
<rect x="1590" y="686" width="32" height="32" fill="#f07818"/>
<path d="M1610,780 C1625,770 1650,775 1665,790" stroke="#c8c810" stroke-width="3" fill="none"/>
<circle cx="1598" cy="875" r="4" fill="#8a40b0"/>
<circle cx="1702" cy="876" r="4" fill="#8a40b0"/>
<circle cx="1702" cy="779" r="4" fill="#8a40b0"/>
<path d="M1572,666 L1572,860" stroke="#20e0e0" stroke-width="14"/>
<rect x="1565" y="690" width="14" height="18" fill="#1a30e0"/>
<rect x="1565" y="725" width="14" height="18" fill="#1a30e0"/>
<rect x="1565" y="775" width="14" height="18" fill="#1a30e0"/>
<rect x="1565" y="820" width="14" height="18" fill="#1a30e0"/>
<path d="M1510,850 L1510,740 C1510,715 1525,705 1540,710 C1555,720 1560,740 1575,745" stroke="#708878" stroke-width="7" fill="none"/>
<path d="M1517,850 L1517,760" stroke="#1020c0" stroke-width="6"/>
<path d="M1520,745 L1520,720" stroke="#28e0e0" stroke-width="6"/>
<path d="M1530,705 C1545,700 1555,715 1560,735" stroke="#30d8d8" stroke-width="9" fill="none"/>
<path d="M1542,710 L1552,728" stroke="#1a30e0" stroke-width="9"/>
<path d="M1580,735 L1640,735" stroke="#30e8e8" stroke-width="12"/>
<path d="M1580,758 L1630,758" stroke="#1a30e0" stroke-width="10"/>
<path d="M1575,748 L1660,762" stroke="#7a9488" stroke-width="6"/>
<path d="M1612,765 C1628,775 1635,800 1630,840" stroke="#1a28c0" stroke-width="4" fill="none"/>
<path d="M1540,765 L1555,765 L1555,850 L1540,850 Z" fill="#b8b8cc"/>
<path d="M1500,870 C1515,880 1540,875 1560,860" stroke="#30c0c0" stroke-width="3" fill="none"/>
<rect x="1508" y="868" width="25" height="14" fill="#3a3a3a"/>
<path d="M1665,740 C1690,735 1700,725 1705,705" stroke="#208aa0" stroke-width="6" fill="none"/>
<path d="M1685,690 L1688,750" stroke="#30d030" stroke-width="2.5"/>
<path d="M1700,666 L1781,666 L1781,725 L1765,728 L1720,722 L1700,712 Z" fill="#c6c6dc"/>
<path d="M1710,672 C1730,668 1745,675 1745,690 L1740,700 L1712,700 Z" fill="#e8e8f2"/>
<rect x="1752" y="720" width="18" height="80" fill="#9090a8"/>
<path d="M1748,798 L1770,798 L1770,822 C1760,826 1752,820 1748,810 Z" fill="#e07a20"/>
<circle cx="1762" cy="690" r="4" fill="#b020b0"/>
</g>
<rect x="1431" y="664" width="352.7" height="293" fill="none" stroke="#000" stroke-width="5.4"/>
<path d="M181,244 L536,244 Q546,244 546,254 L546,308 Q546,318 536,318 L328,318 L116,466 L233,318 L181,318 Q171,318 171,308 L171,254 Q171,244 181,244 Z" fill="#fff" stroke="#000" stroke-width="2.2" stroke-linejoin="miter"/>
<path d="M677.5,271.5 L887,271.5 Q897,271.5 897,281.5 L897,337.5 Q897,347.5 887,347.5 L859,347.5 L894,512 L801.5,347.5 L677.5,347.5 Q667.5,347.5 667.5,337.5 L667.5,281.5 Q667.5,271.5 677.5,271.5 Z" fill="#fff" stroke="#000" stroke-width="2.2" stroke-linejoin="miter"/>
<path d="M921,201 L1145,201 Q1155,201 1155,211 L1155,280 Q1155,290 1145,290 L1114,290 L1047,608 L1053,290 L921,290 Q911,290 911,280 L911,211 Q911,201 921,201 Z" fill="#fff" stroke="#000" stroke-width="2.2" stroke-linejoin="miter"/>
<path d="M1450.5,145.5 L1805,145.5 Q1815,145.5 1815,155.5 L1815,210 Q1815,220 1805,220 L1597.5,220 L1495,297 L1503,220 L1450.5,220 Q1440.5,220 1440.5,210 L1440.5,155.5 Q1440.5,145.5 1450.5,145.5 Z" fill="#fff" stroke="#000" stroke-width="2.2" stroke-linejoin="miter"/>
<path d="M1445.7,479 L1477.7,479 L1340,360 L1539.7,479 L1675,479 Q1685,479 1685,489 L1685,519.7 Q1685,529.7 1675,529.7 L1445.7,529.7 Q1435.7,529.7 1435.7,519.7 L1435.7,489 Q1435.7,479 1445.7,479 Z" fill="#fff" stroke="#000" stroke-width="2.2" stroke-linejoin="miter"/>
<path d="M1138.8,590 L1323,590 Q1333,590 1333,600 L1333,659.7 Q1333,669.7 1323,669.7 L1138.8,669.7 Q1128.8,669.7 1128.8,659.7 L1128.8,623 L886.5,523.2 L1128.8,603.2 L1128.8,600 Q1128.8,590 1138.8,590 Z" fill="#fff" stroke="#000" stroke-width="2.2" stroke-linejoin="miter"/>
<path d="M1565.4,587.6 L1773.2,587.6 Q1783.2,587.6 1783.2,597.6 L1783.2,625.3 Q1783.2,635.3 1773.2,635.3 L1651,635.3 L1660,801 L1593.2,635.3 L1565.4,635.3 Q1555.4,635.3 1555.4,625.3 L1555.4,597.6 Q1555.4,587.6 1565.4,587.6 Z" fill="#fff" stroke="#000" stroke-width="2.2" stroke-linejoin="miter"/>
<path d="M632.7,935.2 L753.4,935.2 L857,835 L809.4,935.2 L836.3,935.2 Q846.3,935.2 846.3,945.2 L846.3,978.8 Q846.3,988.8 836.3,988.8 L632.7,988.8 Q622.7,988.8 622.7,978.8 L622.7,945.2 Q622.7,935.2 632.7,935.2 Z" fill="#fff" stroke="#000" stroke-width="2.2" stroke-linejoin="miter"/>
<path d="M981,922.8 L1015.5,922.8 L882,769 L1079.2,922.8 L1223.3,922.8 Q1233.3,922.8 1233.3,932.8 L1233.3,991.2 Q1233.3,1001.2 1223.3,1001.2 L981,1001.2 Q971,1001.2 971,991.2 L971,932.8 Q971,922.8 981,922.8 Z" fill="#fff" stroke="#000" stroke-width="2.2" stroke-linejoin="miter"/>
</svg>
<div class="ln" style="left:171px;width:375px;top:243.5px"><svg class="cd" width="34" height="34" viewBox="0 0 34 34"><circle cx="18.1" cy="16.8" r="14.8" fill="none" stroke="#000" stroke-width="1.25"/><text x="18.2" y="28" text-anchor="middle" font-size="30.5" font-family="Liberation Sans">9</text></svg>Cảm biến nhiệt độ</div>
<div class="ln" style="left:171px;width:375px;top:282.5px">không khí bên ngoài</div>
<div class="ln" style="left:667.5px;width:229.5px;top:270.8px"><svg class="cd" width="34" height="34" viewBox="0 0 34 34"><circle cx="18.1" cy="16.8" r="14.8" fill="none" stroke="#000" stroke-width="1.25"/><text x="18.2" y="28" text-anchor="middle" font-size="30.5" font-family="Liberation Sans">1</text></svg>Bầu giảm</div>
<div class="ln" style="left:667.5px;width:229.5px;top:309.5px">thanh</div>
<div class="ln" style="left:911px;width:244px;top:208.0px"><svg class="cd" width="34" height="34" viewBox="0 0 34 34"><circle cx="18.1" cy="16.8" r="14.8" fill="none" stroke="#000" stroke-width="1.25"/><text x="18.2" y="28" text-anchor="middle" font-size="30.5" font-family="Liberation Sans">7</text></svg>Cảm biến</div>
<div class="ln" style="left:911px;width:244px;top:246.8px">NOx</div>
<div class="ln" style="left:1440.5px;width:374.5px;top:146.0px"><svg class="cd" width="34" height="34" viewBox="0 0 34 34"><circle cx="18.1" cy="16.8" r="14.8" fill="none" stroke="#000" stroke-width="1.25"/><text x="18.2" y="28" text-anchor="middle" font-size="30.5" font-family="Liberation Sans">8</text></svg>Cảm biến nhiệt độ</div>
<div class="ln" style="left:1440.5px;width:374.5px;top:184.6px">phía trước SCR</div>
<div class="ln" style="left:1435.7px;width:249.29999999999995px;top:485.6px"><svg class="cd" width="34" height="34" viewBox="0 0 34 34"><circle cx="18.1" cy="16.8" r="14.8" fill="none" stroke="#000" stroke-width="1.25"/><text x="18.2" y="28" text-anchor="middle" font-size="30.5" font-family="Liberation Sans">6</text></svg>Vòi phun ure</div>
<div class="ln" style="left:1128.8px;width:204.20000000000005px;top:611.8px"><svg class="cd" width="34" height="34" viewBox="0 0 34 34"><circle cx="18.1" cy="16.8" r="14.8" fill="none" stroke="#000" stroke-width="1.25"/><text x="18.2" y="28" text-anchor="middle" font-size="30.5" font-family="Liberation Sans">4</text></svg>Van cắt</div>
<div class="ln" style="left:1555.4px;width:227.79999999999995px;top:593.3px"><svg class="cd" width="34" height="34" viewBox="0 0 34 34"><circle cx="18.1" cy="16.8" r="14.8" fill="none" stroke="#000" stroke-width="1.25"/><text x="18.2" y="28" text-anchor="middle" font-size="30.5" font-family="Liberation Sans">5</text></svg>Bơm ure</div>
<div class="ln" style="left:622.7px;width:223.5999999999999px;top:943.0px"><svg class="cd" width="34" height="34" viewBox="0 0 34 34"><circle cx="18.1" cy="16.8" r="14.8" fill="none" stroke="#000" stroke-width="1.25"/><text x="18.2" y="28" text-anchor="middle" font-size="30.5" font-family="Liberation Sans">3</text></svg>Bình Ure</div>
<div class="ln" style="left:971px;width:262.29999999999995px;top:943.0px"><svg class="cd" width="34" height="34" viewBox="0 0 34 34"><circle cx="18.1" cy="16.8" r="14.8" fill="none" stroke="#000" stroke-width="1.25"/><text x="18.2" y="28" text-anchor="middle" font-size="30.5" font-family="Liberation Sans">2</text></svg>DCU</div>
</body></html>
